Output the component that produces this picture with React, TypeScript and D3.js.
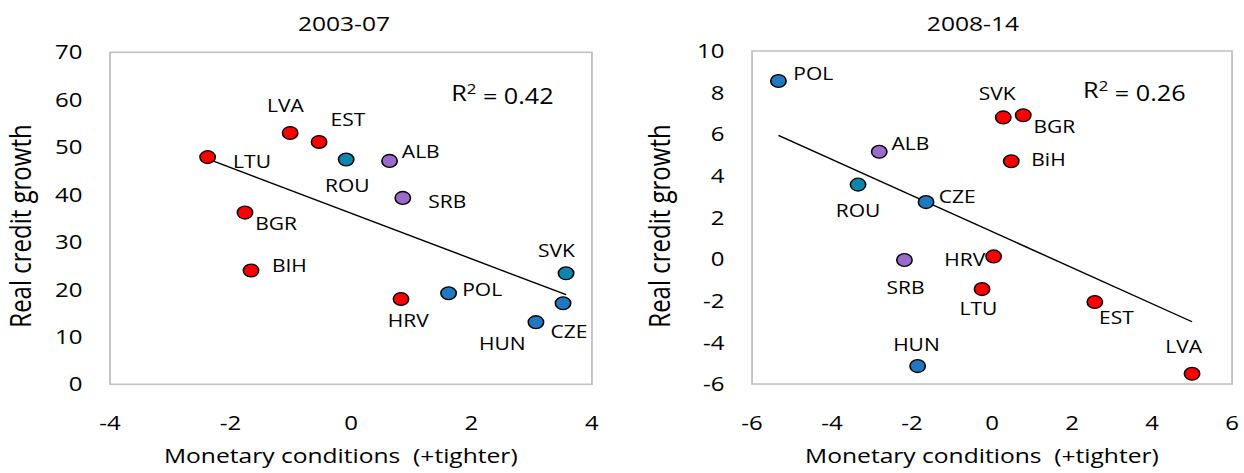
import React from 'react';
import * as d3 from 'd3';

// ---------- DATA ----------
const countries0307 = ['LTU', 'LVA', 'EST', 'ROU', 'ALB', 'SRB', 'BGR', 'BIH', 'HRV', 'POL', 'SVK', 'CZE', 'HUN'];
const monetary0307 = [-2.38, -1.01, -0.53, -0.08, 0.64, 0.86, -1.76, -1.66, 0.83, 1.62, 3.57, 3.52, 3.07];
const credit0307 = [47.9, 53.0, 51.1, 47.4, 47.1, 39.3, 36.2, 24.0, 18.0, 19.2, 23.4, 17.1, 13.1];
const regime0307 = ['peg', 'peg', 'peg', 'mixed', 'other', 'other', 'peg', 'peg', 'peg', 'it', 'mixed', 'it', 'it'];

const countries0814 = ['POL', 'SVK', 'BGR', 'ALB', 'BiH', 'ROU', 'CZE', 'SRB', 'HRV', 'LTU', 'EST', 'HUN', 'LVA'];
const monetary0814 = [-5.34, 0.28, 0.78, -2.82, 0.48, -3.35, -1.65, -2.19, 0.04, -0.25, 2.57, -1.86, 5.0];
const credit0814 = [8.56, 6.81, 6.91, 5.16, 4.70, 3.58, 2.74, -0.04, 0.13, -1.44, -2.06, -5.14, -5.51];
const regime0814 = ['it', 'peg', 'peg', 'other', 'peg', 'mixed', 'it', 'other', 'peg', 'peg', 'peg', 'it', 'peg'];

const xTicks0307 = [-4, -2, 0, 2, 4];
const yTicks0307 = [0, 10, 20, 30, 40, 50, 60, 70];
const xTicks0814 = [-6, -4, -2, 0, 2, 4, 6];
const yTicks0814 = [-6, -4, -2, 0, 2, 4, 6, 8, 10];

const titles = ['2003-07', '2008-14'];
const r2Values = ['0.42', '0.26'];
const xTitle = 'Monetary conditions  (+tighter)';
const yTitle = 'Real credit growth';

// ---------- STYLE / LAYOUT ----------
const regimeColor: Record<string, string> = {
  peg: '#FF0000',
  it: '#2079C0',
  mixed: '#0C86AC',
  other: '#9B6BCB',
};

const labelOffsets0307: Record<string, [number, number]> = {
  LTU: [37, 5], LVA: [-4, -27], EST: [24, -22], ROU: [1, 26], ALB: [26, -9], SRB: [37, 4],
  BGR: [26, 11], BIH: [32, -5], HRV: [6, 22], POL: [28, -4], SVK: [-8, -23], CZE: [5, 29], HUN: [-28, 22],
};
const labelOffsets0814: Record<string, [number, number]> = {
  POL: [29, -7], SVK: [-5, -24], BGR: [26, 11], ALB: [26, -8], BiH: [31, -2], ROU: [0, 26],
  CZE: [26, -5], SRB: [1, 28], HRV: [-24, 3], LTU: [-3, 20], EST: [18, 16], HUN: [-1, -21], LVA: [-7, -27],
};

const STRETCH = 1.2;
const W = 1244;
const H = 473;
const VW = W / STRETCH;
const FONT = "'Open Sans', 'Noto Sans', sans-serif";

interface PanelSpec {
  title: string;
  r2: string;
  names: string[];
  xs: number[];
  ys: number[];
  regimes: string[];
  xTicks: number[];
  yTicks: number[];
  offsets: Record<string, [number, number]>;
  box: { x0: number; x1: number; y0: number; y1: number };
  titleX: number;
  xTitleX: number;
  yTitleX: number;
  r2X: number;
  r2Y: number;
}

function Panel({ p }: { p: PanelSpec }) {
  const xScale = d3.scaleLinear().domain(d3.extent(p.xTicks) as [number, number]).range([p.box.x0, p.box.x1]);
  const yScale = d3.scaleLinear().domain(d3.extent(p.yTicks) as [number, number]).range([p.box.y1, p.box.y0]);

  const mx = d3.mean(p.xs)!;
  const my = d3.mean(p.ys)!;
  let sxy = 0;
  let sxx = 0;
  p.xs.forEach((x, i) => {
    sxy += (x - mx) * (p.ys[i] - my);
    sxx += (x - mx) * (x - mx);
  });
  const slope = sxy / sxx;
  const intercept = my - slope * mx;
  const [xmin, xmax] = d3.extent(p.xs) as [number, number];
  const line = d3.line<number>()
    .x((d) => xScale(d))
    .y((d) => yScale(intercept + slope * d));

  return (
    <g fontFamily={FONT} fill="#000">
      <text x={p.titleX} y={31} textAnchor="middle" fontSize={20.5}>{p.title}</text>
      <rect
        x={p.box.x0}
        y={p.box.y0}
        width={p.box.x1 - p.box.x0}
        height={p.box.y1 - p.box.y0}
        fill="none"
        stroke="#BFBFBF"
        strokeWidth={1.5}
      />
      {p.yTicks.map((t) => (
        <text key={'y' + t} x={p.box.x0 - 23} y={yScale(t)} dy="0.36em" textAnchor="end" fontSize={20}>
          {t}
        </text>
      ))}
      {p.xTicks.map((t) => (
        <text key={'x' + t} x={xScale(t)} y={430} textAnchor="middle" fontSize={20}>
          {t}
        </text>
      ))}
      <text x={p.xTitleX} y={463} textAnchor="middle" fontSize={20.5} style={{ whiteSpace: 'pre' }}>
        {xTitle}
      </text>
      <text
        transform={`translate(${p.yTitleX},226) rotate(-90)`}
        textAnchor="middle"
        dy="0.32em"
        fontSize={24}
      >
        {yTitle}
      </text>
      <path d={line([xmin, xmax]) || ''} stroke="#000" strokeWidth={1.4} fill="none" />
      {p.names.map((n, i) => (
        <circle
          key={'c' + n}
          cx={xScale(p.xs[i])}
          cy={yScale(p.ys[i])}
          r={6.4}
          fill={regimeColor[p.regimes[i]]}
          stroke="#000"
          strokeWidth={1.3}
        />
      ))}
      {p.names.map((n, i) => {
        const [dx, dy] = p.offsets[n] || [20, 0];
        return (
          <text
            key={'l' + n}
            x={xScale(p.xs[i]) + dx}
            y={yScale(p.ys[i]) + dy}
            dy="0.36em"
            textAnchor="middle"
            fontSize={17.5}
          >
            {n}
          </text>
        );
      })}
      <text x={p.r2X} y={p.r2Y} dy="0.36em" textAnchor="middle" fontSize={21}>
        R<tspan dy="-0.45em" fontSize={14}>2</tspan>
        <tspan dy="0.45em">{' = ' + p.r2}</tspan>
      </text>
    </g>
  );
}

export default function App() {
  const panels: PanelSpec[] = [
    {
      title: titles[0],
      r2: r2Values[0],
      names: countries0307,
      xs: monetary0307,
      ys: credit0307,
      regimes: regime0307,
      xTicks: xTicks0307,
      yTicks: yTicks0307,
      offsets: labelOffsets0307,
      box: { x0: 91.7, x1: 493.3, y0: 52.3, y1: 384.3 },
      titleX: 286.7,
      xTitleX: 284,
      yTitleX: 18,
      r2X: 418.7,
      r2Y: 93,
    },
    {
      title: titles[1],
      r2: r2Values[1],
      names: countries0814,
      xs: monetary0814,
      ys: credit0814,
      regimes: regime0814,
      xTicks: xTicks0814,
      yTicks: yTicks0814,
      offsets: labelOffsets0814,
      box: { x0: 626.7, x1: 1026.7, y0: 51, y1: 384 },
      titleX: 810.8,
      xTitleX: 818.3,
      yTitleX: 550.7,
      r2X: 945.3,
      r2Y: 90,
    },
  ];
  return (
    <svg
      width={W}
      height={H}
      viewBox={`0 0 ${VW} ${H}`}
      preserveAspectRatio="none"
      style={{ position: 'absolute', left: 0, top: 0, background: '#fff' }}
    >
      <rect x={0} y={0} width={VW} height={H} fill="#fff" />
      {panels.map((p) => (
        <Panel key={p.title} p={p} />
      ))}
    </svg>
  );
}
